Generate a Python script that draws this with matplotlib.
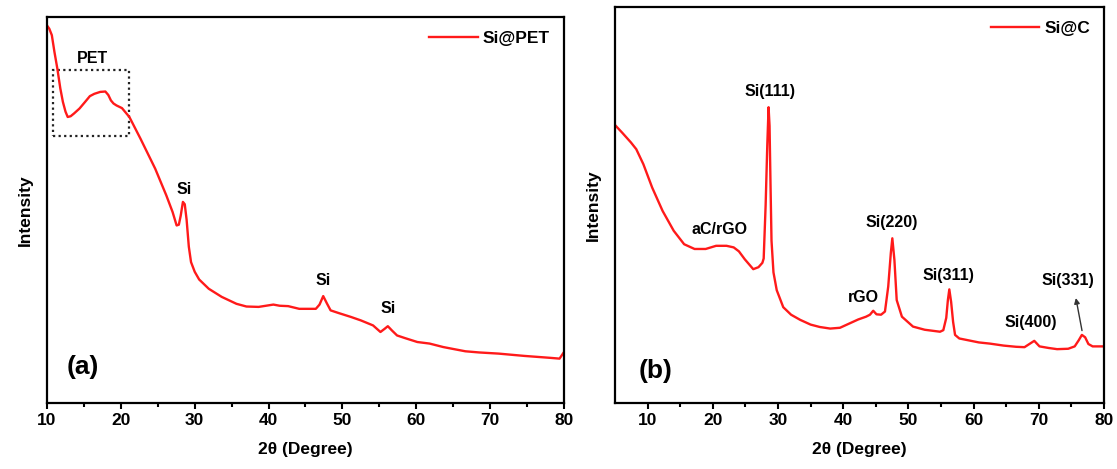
import matplotlib.pyplot as plt

plt.rcParams['font.family'] = ['Liberation Sans', 'DejaVu Sans']
plt.rcParams['font.weight'] = 'bold'

# Si@PET pattern (2theta, intensity a.u.)
tt_pet = [10, 10.3, 10.65, 11.0, 11.4, 11.8, 12.15, 12.5, 12.8, 13.2, 13.65, 14.4,
          15.15, 15.8, 16.4, 17.2, 17.9, 18.3, 18.65, 19.0, 19.4, 20.15, 21.15,
          22.65, 24.65, 26.15, 27.0, 27.55, 27.85, 28.1, 28.4, 28.65, 28.9,
          29.2, 29.5, 30.0, 30.6, 31.9, 33.65, 35.65, 37.0, 38.65, 40.65,
          41.5, 42.65, 44.15, 46.4, 46.9, 47.4, 47.9, 48.4, 49.5, 51.15, 52.5,
          54.15, 55.15, 55.7, 56.15, 56.7, 57.4, 58.5, 60.15, 61.8, 63.65,
          65.0, 66.65, 68.5, 71.15, 74.65, 78.15, 79.4, 80]
int_pet = [97.8, 97.0, 95.3, 91.0, 86.6, 81.5, 78.0, 75.5, 74.1, 74.3, 75.0, 76.3,
           78.0, 79.5, 80.1, 80.6, 80.7, 79.8, 78.4, 77.6, 77.1, 76.4, 74.1,
           68.5, 60.7, 53.8, 49.5, 46.0, 46.2, 48.5, 52.1, 51.5, 47.5,
           40.5, 36.5, 34.0, 32.0, 29.6, 27.5, 25.7, 25.0, 24.9, 25.5,
           25.2, 25.1, 24.4, 24.4, 25.5, 27.7, 25.8, 24.0, 23.3, 22.3, 21.4,
           20.1, 18.4, 19.2, 19.9, 18.8, 17.5, 16.8, 15.8, 15.4, 14.5,
           14.0, 13.4, 13.1, 12.8, 12.2, 11.7, 11.5, 13.2]

# Si@C pattern
tt_c = [5, 6.08, 7.44, 8.26, 9.35, 10.7, 12.3, 14, 15.6, 17.2, 18.9, 20.5,
        22.1, 23.2, 24.0, 24.9, 26.2, 27.0, 27.6, 27.8, 28.1, 28.35, 28.55,
        28.7, 28.85, 29.0, 29.3, 29.8, 30.8, 32.0, 33.4, 35.0, 36.4, 38.0,
        39.5, 40.7, 42.3, 43.5, 44.1, 44.6, 45.1, 45.8, 46.4, 46.9, 47.3,
        47.53, 47.85, 48.2, 49.0, 50.7, 52.5, 54.85, 55.35, 55.8, 56.05,
        56.27, 56.55, 56.85, 57.15, 57.8, 59.0, 60.8, 62.5, 64.6, 66.5, 67.8,
        68.55, 69.3, 70.1, 71.5, 72.8, 74.5, 75.5, 76.1, 76.6, 77.1, 77.6,
        78.25, 80]
int_c = [70.2, 68.3, 65.8, 64.1, 60.3, 54.4, 48.5, 43.5, 40.1, 38.9, 38.9, 39.7,
         39.7, 39.3, 38.3, 36.3, 33.8, 34.3, 35.4, 36.5, 50.0, 65.0, 74.7,
         70.0, 55.0, 41.0, 33.0, 28.5, 24.2, 22.3, 21.0, 19.8, 19.2, 18.8,
         19.0, 19.9, 21.1, 21.8, 22.3, 23.3, 22.4, 22.3, 23.1, 29.4, 37.9,
         41.6, 36.1, 26.0, 21.8, 19.3, 18.5, 18.0, 18.4, 21.5, 26.0,
         28.7, 25.5, 20.5, 17.2, 16.3, 15.9, 15.3, 15.0, 14.5, 14.2, 14.1,
         14.9, 15.7, 14.3, 13.9, 13.6, 13.7, 14.3, 15.8, 17.2, 16.6, 14.9,
         14.3, 14.3]

pet_labels = [('PET', 16.15, 89.2), ('Si', 28.5, 55.4), ('Si', 47.4, 31.8),
              ('Si', 56.15, 24.4)]
c_labels = [('Si(111)', 28.7, 78.6), ('aC/rGO', 21.0, 43.9),
            ('Si(220)', 47.5, 45.6), ('rGO', 43.1, 26.7),
            ('Si(311)', 56.2, 32.1), ('Si(400)', 68.7, 20.4),
            ('Si(331)', 74.5, 30.9)]

fig = plt.figure(figsize=(11.17, 4.69), dpi=100)
ax1 = fig.add_axes([0.0421, 0.1407, 0.4628, 0.823])
ax2 = fig.add_axes([0.5506, 0.1407, 0.4378, 0.8443])


def style(ax, xmin):
    ax.set_xlim(xmin, 80)
    ax.set_ylim(0, 100)
    ax.set_xticks(range(10, 81, 10))
    ax.set_xticks(range(15, 80, 10), minor=True)
    ax.set_yticks([])
    for s in ax.spines.values():
        s.set_linewidth(1.6)
    ax.tick_params(axis='x', which='major', length=4, width=1.5,
                   labelsize=12.5, pad=3)
    ax.tick_params(axis='x', which='minor', length=3, width=1.5)
    ax.set_xlabel('2θ (Degree)', fontsize=12.5, fontweight='bold', labelpad=10)
    ax.set_ylabel('Intensity', fontsize=12.5, fontweight='bold', labelpad=10)
    leg = ax.legend(loc='upper right', frameon=False, handlelength=2.8,
                    prop={'weight': 'bold', 'size': 12.5},
                    borderaxespad=0.4, handletextpad=0.3)
    return leg


ax1.plot(tt_pet, int_pet, color='#ff1a1a', lw=1.7, label='Si@PET',
         solid_joinstyle='round')
style(ax1, 10)
for txt, x, y in pet_labels:
    ax1.text(x, y, txt, ha='center', va='center', fontsize=11.5, fontweight='bold')
ax1.add_patch(plt.Rectangle((10.8, 69.3), 10.25, 16.9, fill=False,
                            ls=(0, (1, 1.5)), lw=1.6, color='#222222'))
ax1.text(14.9, 9.3, '(a)', ha='center', va='center', fontsize=19, fontweight='bold')

ax2.plot(tt_c, int_c, color='#ff1a1a', lw=1.7, label='Si@C',
         solid_joinstyle='round')
style(ax2, 5)
for txt, x, y in c_labels:
    ax2.text(x, y, txt, ha='center', va='center', fontsize=11.5, fontweight='bold')
ax2.annotate('', xy=(75.6, 27.2), xytext=(76.7, 17.6),
             arrowprops=dict(arrowstyle='-|>', color='#333333', lw=1,
                             mutation_scale=8))
ax2.text(11.25, 8.2, '(b)', ha='center', va='center', fontsize=19, fontweight='bold')

fig.savefig('out.png', dpi=100)
